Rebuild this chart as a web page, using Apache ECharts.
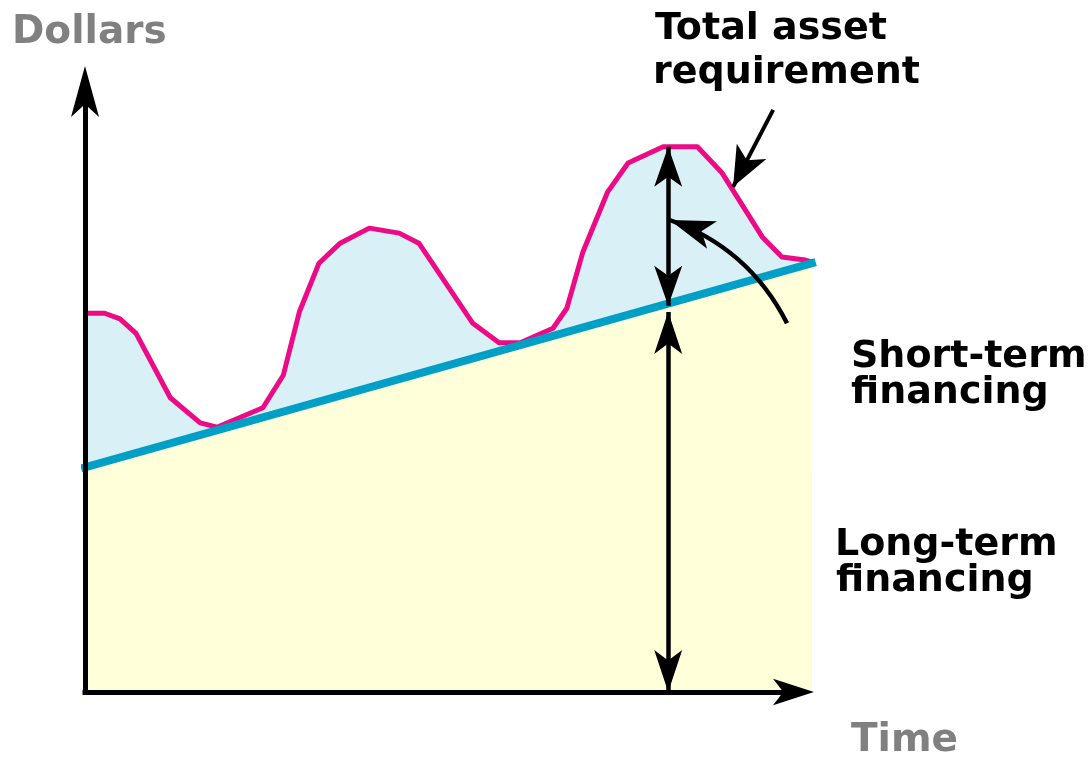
<!DOCTYPE html>
<html>
<head>
<meta charset="utf-8">
<script src="https://cdn.jsdelivr.net/npm/echarts@6/dist/echarts.min.js"></script>
<style>
  html, body { margin: 0; padding: 0; background: #ffffff; }
  #chart { width: 1092px; height: 757px; }
</style>
</head>
<body>
<div id="chart"></div>
<script>
// Time runs 0..100 along x, dollars 0..100 along y (unitless schematic scale)
const totalAssetX = [0, 2.7, 4.8, 7.0, 11.7, 15.8, 18.1, 24.4, 27.2, 29.4, 32.1, 35.0, 39.0, 43.1, 45.8,
                     53.2, 56.8, 59.7, 64.2, 66.1, 68.3, 71.7, 74.5, 79.3, 84.0, 87.4, 92.9, 95.6, 98.8, 99.7];
const totalAssetY = [60.5, 60.5, 59.6, 57.3, 47.0, 43.0, 42.3, 45.4, 50.6, 60.7, 68.5, 71.7, 74.1, 73.3, 71.7,
                     58.9, 55.8, 55.8, 58.1, 61.3, 70.3, 79.9, 84.5, 87.1, 87.1, 82.9, 72.7, 69.5, 69.0, 68.7];
const longTermX = [0, 99.7];
const longTermY = [35.9, 68.5];

// Annotation arrows, in axis units
const spanX = 80;
const shortTermSpan = [87.1, 61.7];   // peak of total requirement down to the long-term line
const longTermSpan = [60.7, 0];       // long-term line down to the time axis
const labelArrow = [[94.4, 93.0], [88.9, 80.7]];
const curvedArrow = [[96.3, 58.9], [80.2, 75.4]];

// Axis arrows: shaft ends where the head begins, head ends at the axis maximum
const axisMax = 100;
const xShaftEnd = 96;
const yShaftEnd = 95;

const totalAsset = totalAssetX.map((x, i) => [x, totalAssetY[i]]);
const longTerm = longTermX.map((x, i) => [x, longTermY[i]]);

const chart = echarts.init(document.getElementById('chart'), null, { renderer: 'canvas' });

const boldBlack = 'bold 38px "DejaVu Sans"';
const boldGray = 'bold 39px "DejaVu Sans"';
function label(text, x, y, font, color) {
  return {
    type: 'text', x: x, y: y, z: 100,
    style: { text: text, font: font, fill: color, textAlign: 'left', textVerticalAlign: 'middle' }
  };
}

const black = '#000000';
const arrowLine = { color: black, width: 4.5, type: 'solid' };
const axisShaft = { color: black, width: 5, type: 'solid', cap: 'square' };
const headOnly = { color: black, width: 0, type: 'solid', opacity: 1 };

chart.setOption({
  animation: false,
  grid: { left: 85, right: 278, top: 66, bottom: 65 },
  xAxis: {
    type: 'value', min: 0, max: axisMax,
    axisLine: { show: false }, axisTick: { show: false }, axisLabel: { show: false }, splitLine: { show: false }
  },
  yAxis: {
    type: 'value', min: 0, max: axisMax,
    axisLine: { show: false }, axisTick: { show: false }, axisLabel: { show: false }, splitLine: { show: false }
  },
  series: [
    {
      name: 'Total asset requirement',
      type: 'line', z: 2, data: totalAsset, showSymbol: false, silent: true,
      lineStyle: { color: '#EC0B86', width: 5, join: 'round' },
      areaStyle: { color: '#DAF0F7', opacity: 1, origin: 'start' }
    },
    {
      name: 'Long-term financing',
      type: 'line', z: 3, data: longTerm, showSymbol: false, silent: true,
      lineStyle: { color: '#00A0C6', width: 8, cap: 'square' },
      areaStyle: { color: '#FFFFD9', opacity: 1, origin: 'start' },
      markLine: {
        silent: true, z: 6, animation: false,
        label: { show: false },
        emphasis: { disabled: true },
        data: [
          // axes
          [
            { coord: [0, 0], symbol: 'none', lineStyle: axisShaft },
            { coord: [0, yShaftEnd], symbol: 'none' }
          ],
          [
            { coord: [0, yShaftEnd - 1], symbol: 'none', lineStyle: headOnly },
            { coord: [0, axisMax], symbol: 'arrow', symbolSize: [21, 51] }
          ],
          [
            { coord: [0, 0], symbol: 'none', lineStyle: axisShaft },
            { coord: [xShaftEnd, 0], symbol: 'none' }
          ],
          [
            { coord: [xShaftEnd - 1, 0], symbol: 'none', lineStyle: headOnly },
            { coord: [axisMax, 0], symbol: 'arrow', symbolSize: [20, 41] }
          ],
          // spans
          [
            { coord: [spanX, shortTermSpan[0]], symbol: 'arrow', symbolSize: [21, 40], lineStyle: arrowLine },
            { coord: [spanX, shortTermSpan[1]], symbol: 'arrow', symbolSize: [21, 40] }
          ],
          [
            { coord: [spanX, longTermSpan[0]], symbol: 'arrow', symbolSize: [21, 42], lineStyle: arrowLine },
            { coord: [spanX, longTermSpan[1]], symbol: 'arrow', symbolSize: [21, 42] }
          ],
          // pointer from the total asset requirement label
          [
            { coord: labelArrow[0], symbol: 'none', lineStyle: { color: black, width: 4, type: 'solid' } },
            { coord: labelArrow[1], symbol: 'arrow', symbolSize: [25, 40] }
          ]
        ]
      }
    },
    {
      // curved pointer from the short-term financing label
      name: 'Short-term pointer',
      type: 'lines', coordinateSystem: 'cartesian2d', z: 6, silent: true,
      symbol: ['none', 'arrow'], symbolSize: [0, [22, 45]],
      lineStyle: { color: black, width: 4.5, opacity: 1, curveness: -0.2 },
      effect: { show: false },
      data: [{ coords: curvedArrow }]
    }
  ],
  graphic: [
    label('Dollars', 12, 33, boldGray, '#808080'),
    label('Time', 851, 741, boldGray, '#808080'),
    label('Total asset', 655, 29, boldBlack, black),
    label('requirement', 653, 73, boldBlack, black),
    label('Short-term', 851, 357, boldBlack, black),
    label('financing', 851, 393, boldBlack, black),
    label('Long-term', 835, 545, boldBlack, black),
    label('financing', 836, 581, boldBlack, black)
  ]
});
</script>
</body>
</html>
